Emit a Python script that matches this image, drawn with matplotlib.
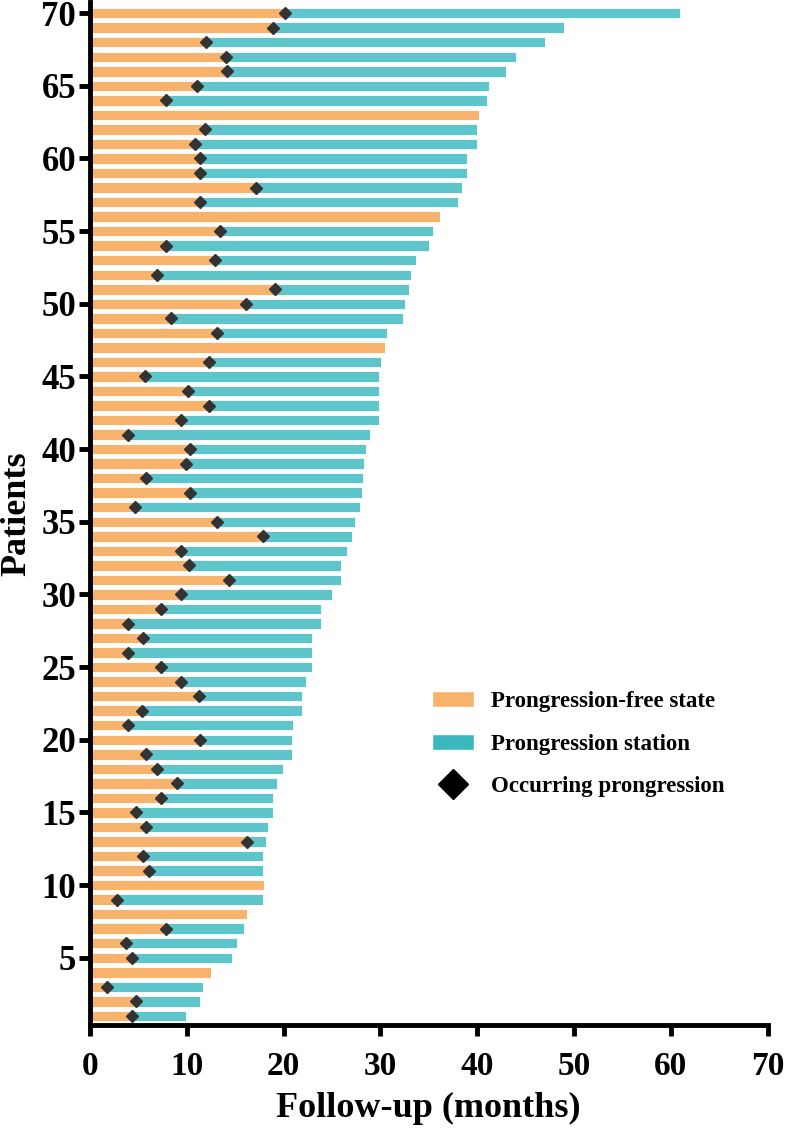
import numpy as np
import matplotlib.pyplot as plt
from matplotlib.patches import Patch
from matplotlib.lines import Line2D

# follow-up per patient (months), patient 1 .. 70
patients = np.arange(1, 71)
followup = [9.9, 11.4, 11.7, 12.55, 14.7, 15.2, 15.9, 16.2, 17.9, 18.0,
            17.9, 17.9, 18.2, 18.4, 18.9, 18.9, 19.3, 19.9, 20.9, 20.9,
            21.0, 21.9, 21.9, 22.3, 22.9, 22.9, 22.9, 23.9, 23.9, 25.05,
            25.9, 25.9, 26.6, 27.1, 27.4, 27.9, 28.1, 28.2, 28.3, 28.5,
            28.9, 29.9, 29.9, 29.9, 29.9, 30.1, 30.5, 30.7, 32.3, 32.5,
            32.95, 33.2, 33.7, 35.0, 35.4, 36.2, 38.0, 38.4, 39.0, 39.0,
            40.0, 40.0, 40.24, 41.0, 41.27, 43.0, 44.0, 47.0, 49.0, 61.0]
# time of progression (nan = no progression)
nan = np.nan
progression = [4.3, 4.8, 1.76, nan, 4.3, 3.7, 7.9, nan, 2.8, nan,
               6.1, 5.5, 16.2, 5.8, 4.8, 7.3, 9.0, 6.9, 5.8, 11.4,
               3.9, 5.4, 11.3, 9.45, 7.3, 3.9, 5.5, 3.9, 7.3, 9.45,
               14.4, 10.2, 9.45, 17.9, 13.1, 4.65, 10.3, 5.8, 9.9, 10.3,
               3.9, 9.45, 12.3, 10.1, 5.7, 12.3, nan, 13.1, 8.4, 16.1,
               19.1, 6.9, 12.9, 7.9, 13.4, nan, 11.4, 17.1, 11.4, 11.4,
               10.9, 11.9, nan, 7.9, 11.1, 14.15, 14.0, 12.0, 18.9, 20.1]

followup = np.array(followup)
progression = np.array(progression)
pfs = np.where(np.isnan(progression), followup, progression)

orange = '#F7B26B'
teal = '#5EC6CA'
font = 'Liberation Serif'

plt.rcParams['font.family'] = font
plt.rcParams['font.weight'] = 'bold'

fig = plt.figure(figsize=(7.86, 11.3), dpi=100)
ax = fig.add_axes([0.1145, 0.093, 0.862, 0.905])

ax.barh(patients, pfs, height=0.72, color=orange, edgecolor='white', linewidth=0.6)
ax.barh(patients, followup - pfs, left=pfs, height=0.72, color=teal,
        edgecolor='white', linewidth=0.6)
ax.plot(progression, patients, 'D', color='#333333', markersize=6.6, linestyle='none')

ax.set_xlim(0, 70)
ax.set_ylim(0.38, 70.75)
ax.set_xticks(np.arange(0, 71, 10))
ax.set_yticks(np.arange(5, 71, 5))
ax.tick_params(axis='both', width=3.5, length=8, labelsize=24)
ax.tick_params(axis='y', pad=2, labelsize=25)
ax.tick_params(axis='x', pad=11)
for s in ['top', 'right']:
    ax.spines[s].set_visible(False)
for s in ['left', 'bottom']:
    ax.spines[s].set_linewidth(3.5)

ax.set_xlabel('Follow-up (months)', fontsize=26, fontweight='bold', labelpad=7)
ax.set_ylabel('Patients', fontsize=26, fontweight='bold', labelpad=6)

handles = [Patch(facecolor=orange, edgecolor='white'),
           Patch(facecolor='#3BB8BE', edgecolor='white'),
           Line2D([], [], marker='D', color='black', linestyle='none', markersize=15)]
labels = ['Prongression-free state', 'Prongression station', 'Occurring prongression']
fig.legend(handles, labels, loc='upper left', bbox_to_anchor=(0.524, 0.407),
           frameon=False, handlelength=1.8, handleheight=0.7,
           handletextpad=0.75, labelspacing=0.95,
           prop={'family': font, 'weight': 'bold', 'size': 16.5})

fig.savefig('out.png', dpi=100)
